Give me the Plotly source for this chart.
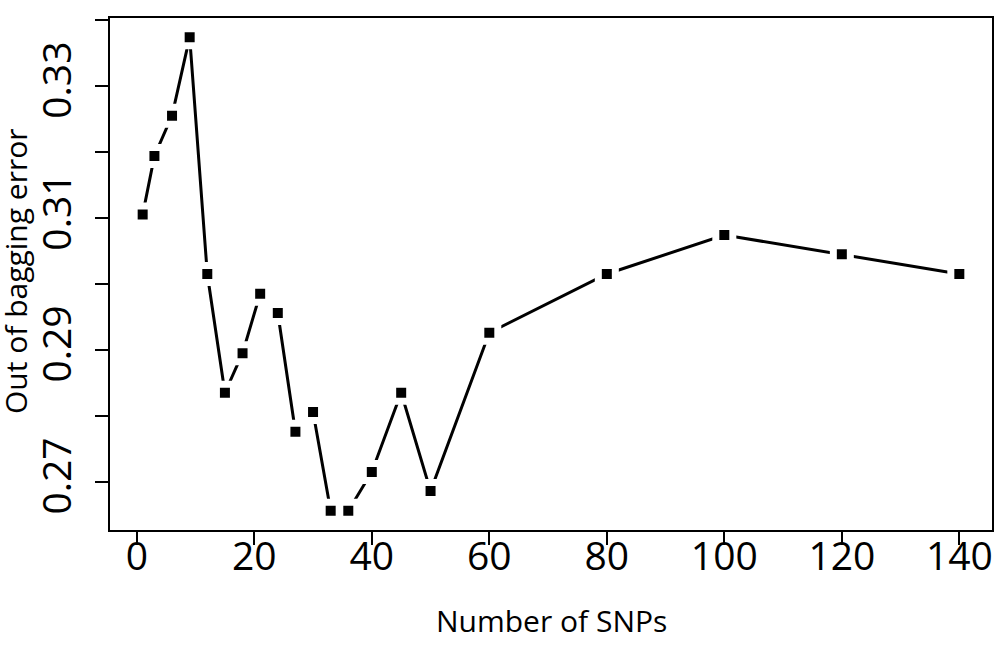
import plotly.graph_objects as go

num_snps = [1, 3, 6, 9, 12, 15, 18, 21, 24, 27, 30, 33, 36, 40, 45, 50, 60, 80, 100, 120, 140]
oob_error = [0.3105, 0.3194, 0.3255, 0.3374, 0.3015, 0.2835, 0.2895, 0.2985, 0.2956,
             0.2776, 0.2806, 0.2656, 0.2656, 0.2715, 0.2835, 0.2686, 0.2926, 0.3015,
             0.3074, 0.3045, 0.3015]

x_ticks = [0, 20, 40, 60, 80, 100, 120, 140]
y_ticks = [0.27, 0.28, 0.29, 0.30, 0.31, 0.32, 0.33, 0.34]
y_ticktext = ["0.27", "", "0.29", "", "0.31", "", "0.33", ""]

FONT = "Open Sans"
X_RANGE = [-4.56, 145.56]

fig = go.Figure()
fig.add_trace(go.Scatter(
    x=num_snps, y=oob_error, mode="lines+markers",
    line=dict(color="black", width=3),
    marker=dict(symbol="square", size=17, color="black",
                line=dict(color="white", width=7)),
    showlegend=False, cliponaxis=False,
))
# invisible companion trace so the label-only overlay axis is rendered
fig.add_trace(go.Scatter(
    x=num_snps, y=oob_error, xaxis="x2", yaxis="y", mode="markers",
    marker=dict(opacity=0), hoverinfo="skip", showlegend=False,
))

fig.update_layout(
    width=1005, height=648,
    margin=dict(l=110, r=13, t=18, b=118),
    paper_bgcolor="white", plot_bgcolor="white",
    font=dict(family=FONT, color="black"),
    xaxis=dict(
        range=X_RANGE, tickvals=x_ticks, ticks="outside", ticklen=13,
        tickwidth=1.5, tickcolor="black", showgrid=False, zeroline=False,
        showline=True, linecolor="black", linewidth=1.5, mirror=True,
        showticklabels=False, automargin=False,
    ),
    xaxis2=dict(
        overlaying="x", side="bottom", anchor="y", range=X_RANGE, tickvals=x_ticks,
        ticks="", showgrid=False, zeroline=False, showline=False,
        tickfont=dict(size=39, family=FONT, color="black"),
        automargin=False, ticklabelstandoff=0,
    ),
    yaxis=dict(
        range=[0.2627, 0.3403], tickvals=y_ticks, ticktext=y_ticktext, tickangle=-90,
        ticks="outside", ticklen=13, tickwidth=1.5, tickcolor="black",
        showgrid=False, zeroline=False,
        showline=True, linecolor="black", linewidth=1.5, mirror=True,
        tickfont=dict(size=39, family=FONT), automargin=False, ticklabelstandoff=9,
    ),
    annotations=[
        dict(text="Number of SNPs", xref="paper", yref="paper",
             x=(551 - 110) / 882, y=(530 - 620) / 512, xanchor="center", yanchor="middle",
             showarrow=False, font=dict(size=30, family=FONT, color="black")),
        dict(text="Out of bagging error", xref="paper", yref="paper", textangle=-90,
             x=(15 - 110) / 882, y=(530 - 272) / 512, xanchor="center", yanchor="middle",
             showarrow=False, font=dict(size=30, family=FONT, color="black")),
    ],
)

fig.write_html("out.html", config={"displayModeBar": False},
               post_script="document.body.style.margin='0';")
